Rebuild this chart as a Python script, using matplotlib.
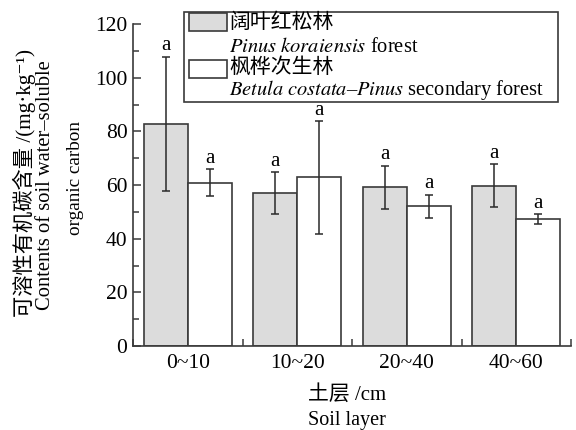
import matplotlib
matplotlib.use("Agg")
import matplotlib.pyplot as plt
from matplotlib.patches import Rectangle
from matplotlib.ticker import FixedLocator, MultipleLocator

plt.rcParams['font.family'] = ['Liberation Serif', 'Noto Sans CJK SC', 'DejaVu Serif']
plt.rcParams['mathtext.fontset'] = 'stix'

# data
layers = ['0~10', '10~20', '20~40', '40~60']
pk_mean = [82.8, 57.0, 59.2, 59.8]
pk_err = [25.0, 7.8, 8.0, 8.0]
bc_mean = [60.8, 62.8, 52.0, 47.3]
bc_err = [5.0, 21.0, 4.4, 1.8]
pk_sig = ['a', 'a', 'a', 'a']
bc_sig = ['a', 'a', 'a', 'a']

W, H = 576, 430
fig = plt.figure(figsize=(W / 100, H / 100), dpi=100)


def fx(px):
    return px / W


def fy(py):
    return 1 - py / H


ax = fig.add_axes([fx(133), fy(346), fx(438), 322 / H])

x = list(range(len(layers)))
bw = 0.4
edge = '#3a3a3a'
ekw = dict(ecolor='#2a2a2a', elinewidth=1.1, capsize=3, capthick=1.1)
ax.bar([i - bw / 2 for i in x], pk_mean, bw, yerr=pk_err, color='#dcdcdc',
       edgecolor=edge, linewidth=1.2, error_kw=ekw, zorder=2)
ax.bar([i + bw / 2 for i in x], bc_mean, bw, yerr=bc_err, color='white',
       edgecolor=edge, linewidth=1.2, error_kw=ekw, zorder=2)

for i in x:
    ax.annotate(pk_sig[i], (i - bw / 2, pk_mean[i] + pk_err[i]), xytext=(0, 1),
                textcoords='offset points', ha='center', va='bottom', fontsize=15)
    ax.annotate(bc_sig[i], (i + bw / 2, bc_mean[i] + bc_err[i]), xytext=(0, 1),
                textcoords='offset points', ha='center', va='bottom', fontsize=15)

ax.set_xlim(-0.5, len(layers) - 0.5)
ax.set_ylim(0, 120)
ax.set_xticks(x)
ax.set_xticklabels(layers, fontsize=15.5)
ax.xaxis.set_minor_locator(FixedLocator([i + 0.5 for i in range(-1, len(layers))]))
ax.tick_params(axis='x', which='major', length=0, pad=6)
ax.tick_params(axis='x', which='minor', direction='in', length=5, width=1.1, color=edge)
ax.set_yticks(range(0, 121, 20))
ax.yaxis.set_minor_locator(MultipleLocator(10))
ax.tick_params(axis='y', which='major', direction='in', length=6, width=1.1,
               labelsize=15.5, color=edge, pad=4)
ax.tick_params(axis='y', which='minor', direction='in', length=4, width=1.1, color=edge)
for s in ['top', 'right']:
    ax.spines[s].set_visible(False)
for s in ['left', 'bottom']:
    ax.spines[s].set_linewidth(1.2)
    ax.spines[s].set_color(edge)

# axis titles
fig.text(fx(347), fy(395), '土层 /cm', ha='center', va='center', fontsize=15)
fig.text(fx(347), fy(421), 'Soil layer', ha='center', va='center', fontsize=14.5)
fig.text(fx(24), fy(183), '可溶性有机碳含量 /(mg·kg⁻¹)', rotation=90,
         ha='center', va='center', fontsize=15.3)
fig.text(fx(46), fy(185), 'Contents of soil water–soluble', rotation=90,
         ha='center', va='center', fontsize=14.8)
fig.text(fx(75), fy(178), 'organic carbon', rotation=90,
         ha='center', va='center', fontsize=13.8)

# legend box
fig.add_artist(Rectangle((fx(184), fy(102)), fx(374), 90 / H, transform=fig.transFigure,
                         fill=False, edgecolor=edge, linewidth=1.2))
fig.add_artist(Rectangle((fx(189), fy(31)), fx(38), 18 / H, transform=fig.transFigure,
                         facecolor='#dcdcdc', edgecolor=edge, linewidth=1.2))
fig.add_artist(Rectangle((fx(189), fy(78)), fx(38), 18 / H, transform=fig.transFigure,
                         facecolor='white', edgecolor=edge, linewidth=1.2))
fig.text(fx(229), fy(23), '阔叶红松林', ha='left', va='center', fontsize=15)
fig.text(fx(229), fy(47), r'$\it{Pinus\ koraiensis}$ forest', ha='left', va='center', fontsize=14.8)
fig.text(fx(229), fy(68), '枫桦次生林', ha='left', va='center', fontsize=15)
fig.text(fx(229), fy(90), r'$\it{Betula\ costata}$–$\it{Pinus}$ secondary forest',
         ha='left', va='center', fontsize=14.7)

fig.savefig('out.png', dpi=100)
